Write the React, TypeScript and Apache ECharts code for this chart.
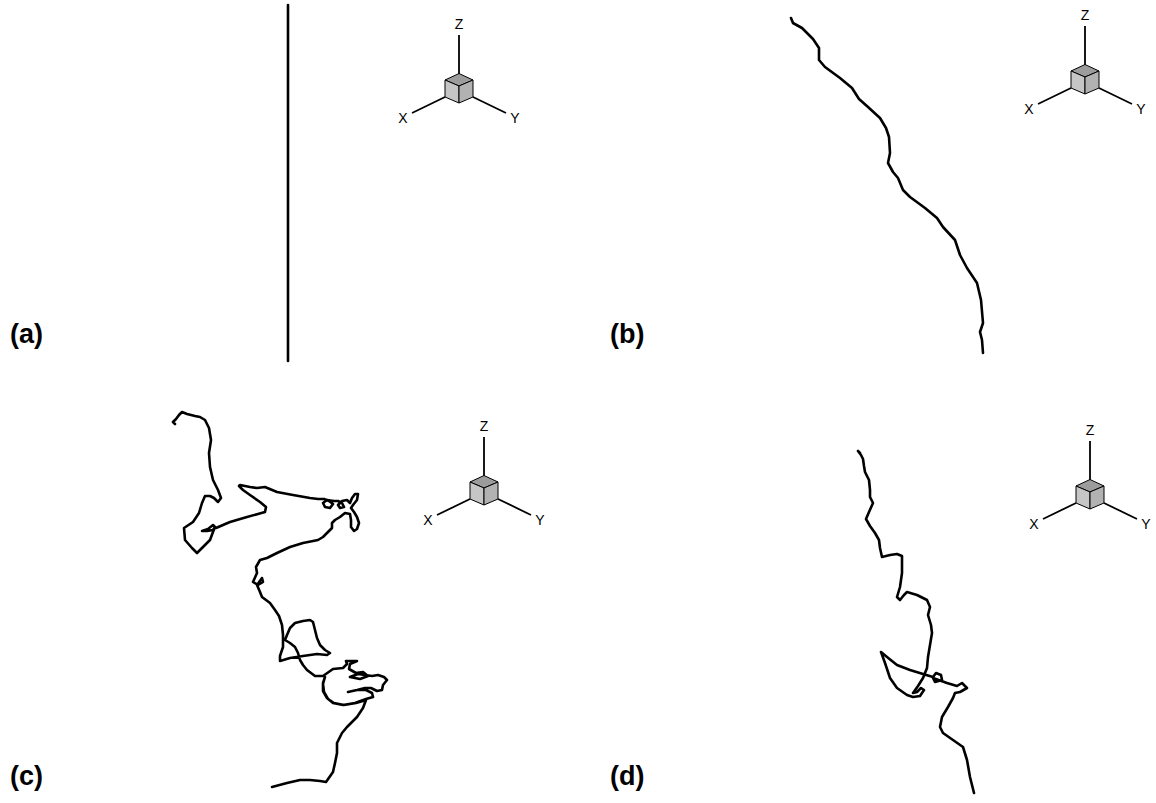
import React, { useEffect, useRef } from "react";
import * as echarts from "echarts";

// ---- data (in page units) ----
const panelLabels = ["(a)", "(b)", "(c)", "(d)"];
const triadAxisLabels = ["X", "Y", "Z"];

const chainA: number[][] = [
  [288, 5], [288, 361],
];

const chainB: number[][] = [
  [791, 18], [793, 23], [802, 28], [813, 39], [819, 48], [819, 60], [825, 67], [840, 78],
  [852, 88], [859, 99], [868, 107], [880, 118], [886, 128], [889, 137], [890, 153], [888, 163],
  [893, 172], [898, 178], [903, 190], [910, 197], [925, 208], [937, 218], [943, 227], [955, 240],
  [960, 255], [967, 268], [977, 283], [981, 300], [983, 323], [980, 332], [982, 340], [983, 353],
];

const chainC: number[][] = [
  [175, 424], [173, 422], [176, 419], [179, 415], [182, 412], [187, 414], [195, 416], [200, 417], [205, 420],
  [209, 428], [211, 440], [209, 453], [210, 467], [213, 480], [218, 490], [221, 498], [218, 502],
  [214, 498], [210, 496], [205, 496], [202, 503], [199, 513], [193, 522], [184, 528], [185, 540],
  [192, 548], [197, 553], [203, 547], [210, 540], [213, 532], [215, 527], [213, 530], [207, 531],
  [202, 531], [208, 529], [213, 525], [216, 528], [230, 522], [247, 517], [265, 512], [266, 507],
  [260, 502], [250, 495], [243, 490], [239, 486], [240, 485], [250, 487], [257, 488], [265, 487],
  [277, 492], [293, 495], [310, 498], [318, 499], [324, 499], [329, 501], [333, 504], [330, 508],
  [325, 507], [323, 503], [327, 500], [334, 501], [338, 501], [342, 503], [344, 507], [340, 508],
  [338, 505], [342, 501], [347, 500], [350, 503], [352, 498], [355, 494], [358, 494], [357, 500],
  [353, 505], [351, 508], [354, 512], [357, 517], [359, 523], [357, 529], [354, 531], [351, 527],
  [351, 520], [350, 514], [345, 513], [340, 517], [335, 520], [332, 523], [332, 528], [328, 532],
  [323, 537], [318, 540], [303, 543], [290, 547], [277, 553], [267, 558], [260, 560], [256, 567],
  [257, 573], [253, 582], [258, 585], [263, 582], [262, 578], [257, 585], [260, 592], [262, 597],
  [270, 603], [275, 610], [279, 616], [282, 625], [283, 635], [283, 647], [280, 656], [280, 661],
  [290, 658], [303, 656], [317, 654], [327, 655], [330, 653], [325, 650], [320, 645], [317, 638],
  [315, 630], [313, 622], [310, 620], [303, 621], [295, 623], [290, 628], [287, 635], [285, 640],
  [290, 643], [295, 647], [298, 653], [300, 660], [303, 665], [307, 670], [315, 676], [323, 676],
  [333, 669], [343, 668], [347, 664], [346, 661], [357, 661], [350, 664], [349, 669], [356, 673],
  [363, 672], [368, 676], [360, 679], [350, 677], [358, 674], [372, 676], [378, 675], [384, 677],
  [387, 680], [383, 685], [382, 690], [377, 691], [371, 688], [365, 688], [357, 690], [348, 692],
  [357, 690], [366, 690], [372, 693], [373, 697], [366, 699], [355, 703], [343, 705], [333, 703],
  [327, 698], [323, 691], [323, 683], [325, 677], [323, 684], [324, 692], [328, 699], [334, 703],
  [344, 705], [356, 703], [366, 700], [363, 708], [357, 717], [347, 727], [342, 733], [337, 743],
  [337, 753], [335, 763], [333, 772], [326, 782], [320, 781], [310, 780], [300, 780], [287, 783],
  [272, 787],
];

const chainD: number[][] = [
  [860, 453], [858, 451], [861, 455], [863, 459], [864, 466], [865, 472], [869, 480], [870, 490], [870, 497],
  [873, 503], [869, 512], [866, 519], [870, 526], [875, 533], [879, 540], [880, 548], [882, 557],
  [890, 555], [897, 554], [902, 556], [902, 565], [902, 573], [900, 587], [897, 597], [900, 600],
  [904, 595], [907, 592], [917, 595], [927, 600], [930, 607], [928, 615], [931, 625], [932, 633],
  [930, 645], [928, 657], [927, 668], [923, 678], [918, 686], [913, 693], [917, 692], [921, 688],
  [924, 690], [920, 696], [913, 697], [907, 695], [897, 688], [890, 678], [885, 663], [881, 652],
  [887, 657], [897, 665], [910, 670], [923, 674], [933, 677], [936, 673], [941, 675], [942, 680],
  [935, 682], [933, 678], [947, 683], [957, 686], [962, 683], [967, 688], [960, 692], [955, 693],
  [953, 698], [948, 707], [942, 717], [940, 727], [943, 733], [953, 740], [963, 747], [967, 760],
  [970, 777], [974, 793],
];

const chains = [chainA, chainB, chainC, chainD];

// ---- layout ----
const W = 1156;
const H = 803;
const labelPos = [[10, 334], [610, 334], [10, 776], [610, 776]];
const triadPos = [[459, 86], [1085, 77], [484, 488], [1090, 492]];
const FONT = "'Liberation Sans', Arial, sans-serif";

function triad(cx: number, cy: number) {
  const stroke = "#000";
  const lw = 1.8;
  const txt = (t: string, x: number, y: number) => ({
    type: "text",
    x,
    y,
    style: {
      text: t,
      fill: "#000",
      font: `14px ${FONT}`,
      align: "center",
      verticalAlign: "middle",
      textAlign: "center",
      textVerticalAlign: "middle",
    },
  });
  return {
    type: "group",
    x: cx,
    y: cy,
    silent: true,
    children: [
      { type: "line", shape: { x1: 0, y1: -12, x2: 0, y2: -51 }, style: { stroke, lineWidth: lw } },
      { type: "line", shape: { x1: -14, y1: 11, x2: -47, y2: 27 }, style: { stroke, lineWidth: lw } },
      { type: "line", shape: { x1: 14, y1: 11, x2: 47, y2: 27 }, style: { stroke, lineWidth: lw } },
      {
        type: "polygon",
        shape: { points: [[0, 0], [-14, -6], [0, -12.5], [14, -6]] },
        style: { fill: "#9c9c9c", stroke, lineWidth: 1 },
      },
      {
        type: "polygon",
        shape: { points: [[-14, -6], [0, 0], [0, 17], [-14, 11]] },
        style: { fill: "#c6c6c6", stroke, lineWidth: 1 },
      },
      {
        type: "polygon",
        shape: { points: [[0, 0], [14, -6], [14, 11], [0, 17]] },
        style: { fill: "#b2b2b2", stroke, lineWidth: 1 },
      },
      txt(triadAxisLabels[2], 0, -62),
      txt(triadAxisLabels[0], -56, 32),
      txt(triadAxisLabels[1], 56, 32),
    ],
  };
}

export default function App() {
  const ref = useRef<HTMLDivElement>(null);
  useEffect(() => {
    if (!ref.current) return;
    const chart = echarts.init(ref.current, undefined, { renderer: "svg" });
    const graphics: any[] = [];
    triadPos.forEach(([x, y]) => graphics.push(triad(x, y)));
    panelLabels.forEach((t, i) =>
      graphics.push({
        type: "text",
        x: labelPos[i][0],
        y: labelPos[i][1],
        silent: true,
        style: {
          text: t,
          fill: "#000",
          font: `bold 27px ${FONT}`,
          align: "left",
          verticalAlign: "middle",
          textAlign: "left",
          textVerticalAlign: "middle",
        },
      })
    );
    chart.setOption({
      animation: false,
      backgroundColor: "#fff",
      grid: { left: 0, right: 0, top: 0, bottom: 0, containLabel: false },
      xAxis: { type: "value", min: 0, max: W, show: false, splitLine: { show: false } },
      yAxis: { type: "value", min: 0, max: H, inverse: true, show: false, splitLine: { show: false } },
      series: chains.map((d, i) => ({
        type: "line",
        name: panelLabels[i],
        data: d,
        showSymbol: false,
        symbol: "none",
        silent: true,
        lineStyle: { color: "#000", width: 2.6, cap: "round", join: "round" },
      })),
      graphic: graphics,
    });
    return () => chart.dispose();
  }, []);
  return (
    <div
      ref={ref}
      style={{ position: "fixed", left: 0, top: 0, width: W, height: H, background: "#fff" }}
    />
  );
}
